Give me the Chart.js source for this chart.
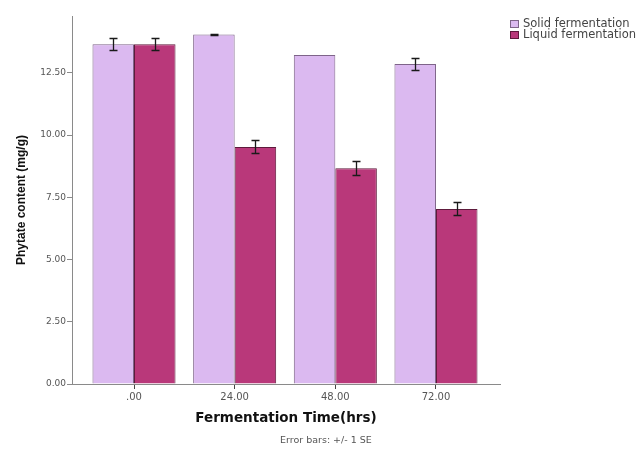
<!DOCTYPE html>
<html>
<head>
<meta charset="utf-8">
<script src="https://cdn.jsdelivr.net/npm/chart.js@4.4.0/dist/chart.umd.min.js"></script>
<style>
  html, body { margin: 0; padding: 0; background: #fff; }
  canvas { display: block; }
</style>
</head>
<body>
<canvas id="chart" width="639" height="449"></canvas>
<script>
const categories = ['.00', '24.00', '48.00', '72.00'];
const seriesNames = ['Solid fermentation', 'Liquid fermentation'];
const solidValues = [13.65, 14.04, 13.21, 12.85];
const liquidValues = [13.65, 9.52, 8.67, 7.03];
const solidErrors = [0.24, 0.02, 0, 0.24];
const liquidErrors = [0.24, 0.26, 0.28, 0.26];
const yTickValues = [0, 2.5, 5, 7.5, 10, 12.5];

const solidFill = '#dbb9f0';
const solidBorder = '#7e6489';
const liquidFill = '#b9387a';
const liquidBorder = '#5e1a3c';
const axisColor = '#8a8a8a';
const tickTextColor = '#555';

// error bars (+/- 1 SE) drawn from the dataset's own values
const errorBars = {
    id: 'errorBars',
    afterDatasetsDraw(chart) {
        const ctx = chart.ctx;
        const yScale = chart.scales.y;
        ctx.save();
        ctx.strokeStyle = '#1a1a1a';
        ctx.lineWidth = 1.3;
        chart.data.datasets.forEach((ds, di) => {
            chart.getDatasetMeta(di).data.forEach((bar, i) => {
                const v = ds.data[i].y;
                const e = ds.errors[i];
                if (!e) return;
                const x = Math.round(bar.x) + 0.5;
                const top = Math.round(yScale.getPixelForValue(v + e)) + 0.5;
                const bot = Math.round(yScale.getPixelForValue(v - e)) + 0.5;
                ctx.beginPath();
                ctx.moveTo(x, top); ctx.lineTo(x, bot);
                ctx.moveTo(x - 4, top); ctx.lineTo(x + 4, top);
                ctx.moveTo(x - 4, bot); ctx.lineTo(x + 4, bot);
                ctx.stroke();
            });
        });
        ctx.restore();
    }
};

// legend at the top right and the note under the axis title
const sideNotes = {
    id: 'sideNotes',
    afterDraw(chart) {
        const ctx = chart.ctx;
        ctx.save();
        chart.data.datasets.forEach((ds, di) => {
            const by = 20 + di * 11;
            ctx.fillStyle = ds.backgroundColor;
            ctx.fillRect(510, by, 9, 8);
            ctx.strokeStyle = ds.borderColor;
            ctx.lineWidth = 1;
            ctx.strokeRect(510.5, by + 0.5, 8, 7);
            ctx.fillStyle = '#444';
            ctx.font = '11.5px "DejaVu Sans"';
            ctx.textBaseline = 'middle';
            ctx.textAlign = 'left';
            ctx.fillText(ds.label, 523, by + 4);
        });
        ctx.fillStyle = '#555';
        ctx.font = '9.5px "DejaVu Sans"';
        ctx.textBaseline = 'middle';
        ctx.fillText('Error bars: +/- 1 SE', 280, 441);
        ctx.restore();
    }
};

const ctx = document.getElementById('chart').getContext('2d');
new Chart(ctx, {
    type: 'bar',
    data: {
        datasets: [
            {
                label: seriesNames[0],
                data: solidValues.map((v, i) => ({ x: i, y: v })),
                errors: solidErrors,
                backgroundColor: solidFill,
                borderColor: solidBorder,
                borderWidth: 1
            },
            {
                label: seriesNames[1],
                data: liquidValues.map((v, i) => ({ x: i, y: v })),
                errors: liquidErrors,
                backgroundColor: liquidFill,
                borderColor: liquidBorder,
                borderWidth: 1
            }
        ]
    },
    options: {
        responsive: false,
        animation: false,
        categoryPercentage: 0.825,
        barPercentage: 1,
        layout: { padding: { top: 16, right: 139, bottom: 0, left: 0 } },
        plugins: {
            legend: { display: false },
            tooltip: { enabled: false }
        },
        scales: {
            x: {
                type: 'linear',
                offset: false,
                min: -0.616,
                max: 3.636,
                afterBuildTicks: (scale) => {
                    scale.ticks = categories.map((c, i) => ({ value: i }));
                },
                afterFit: (scale) => { scale.height = 65; },
                ticks: {
                    callback: (value) => categories[value],
                    color: tickTextColor,
                    font: { family: 'DejaVu Sans', size: 10 },
                    padding: 2,
                    maxRotation: 0
                },
                grid: { offset: false, drawOnChartArea: false, color: '#444', tickLength: 5 },
                border: { color: axisColor },
                title: {
                    display: true,
                    text: 'Fermentation Time(hrs)',
                    color: '#111',
                    font: { family: 'DejaVu Sans', size: 13.5, weight: 'bold' },
                    padding: { top: 0, bottom: 22 }
                }
            },
            y: {
                min: 0,
                max: 14.78,
                afterBuildTicks: (scale) => {
                    scale.ticks = yTickValues.map(v => ({ value: v }));
                },
                afterFit: (scale) => { scale.width = 72; },
                ticks: {
                    callback: (value) => value.toFixed(2),
                    color: tickTextColor,
                    font: { family: 'DejaVu Sans', size: 9 },
                    padding: 1
                },
                grid: { drawOnChartArea: false, color: axisColor, tickLength: 5 },
                border: { color: axisColor },
                title: {
                    display: true,
                    text: 'Phytate content (mg/g)',
                    color: '#111',
                    font: { family: 'Liberation Sans', size: 12, weight: 'bold' },
                    padding: { top: 14, bottom: 0 }
                }
            }
        }
    },
    plugins: [errorBars, sideNotes]
});
</script>
</body>
</html>
